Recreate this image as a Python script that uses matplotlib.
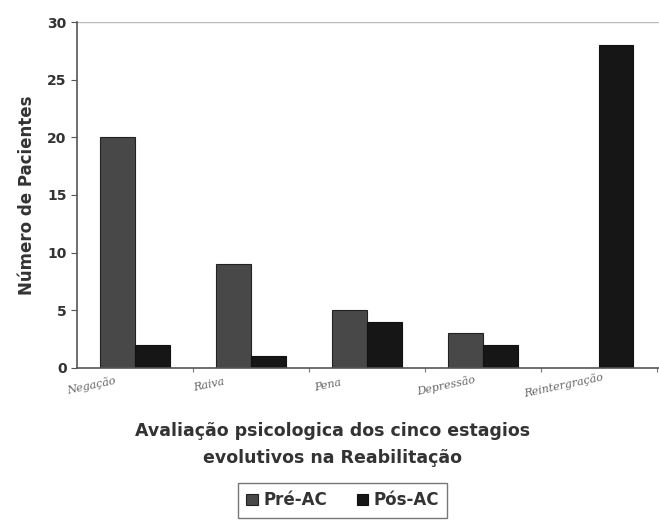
import matplotlib.pyplot as plt
import numpy as np

categorias = ['Negação', 'Raiva', 'Pena', 'Depressão', 'Reintergração']
pre_ac = [20, 9, 5, 3, 0]
pos_ac = [2, 1, 4, 2, 28]
yticks = [0, 5, 10, 15, 20, 25, 30]

fig = plt.figure(figsize=(6.59, 5.24), dpi=100)
ax = fig.add_axes([0.117, 0.298, 0.883, 0.66])

x = np.arange(len(categorias))
w = 0.3
ax.bar(x - w / 2, pre_ac, w, color='#484848', edgecolor='#222222', lw=0.8, label='Pré-AC')
ax.bar(x + w / 2, pos_ac, w, color='#161616', edgecolor='#111111', lw=0.8, label='Pós-AC')

ax.set_xlim(-0.5, 4.52)
ax.set_ylim(0, 30)
ax.set_yticks(yticks)
ax.set_yticklabels([str(v) for v in yticks], fontsize=10, fontweight='bold', color='#333333')
ax.axhline(30, color='#bbbbbb', lw=1)

ax.set_xticks(x + 0.5)
ax.set_xticklabels([])
ax.tick_params(axis='x', length=3, direction='out', color='#777777')
ax.tick_params(axis='y', length=4, color='#555555')
for s in ['top', 'right']:
    ax.spines[s].set_visible(False)
ax.spines['left'].set_color('#555555')
ax.spines['bottom'].set_color('#555555')
ax.spines['left'].set_linewidth(1.2)
ax.spines['bottom'].set_linewidth(1.2)

for i, c in enumerate(categorias):
    ax.text(i - 0.38 + 0.02 * i, -1.5, c, rotation=12, ha='center', va='center', fontsize=8,
            family='DejaVu Serif', style='italic', color='#666666')

ax.set_ylabel('Número de Pacientes', fontsize=12, fontweight='bold', color='#333333', labelpad=8)
fig.text(0.505, 0.152, 'Avaliação psicologica dos cinco estagios\nevolutivos na Reabilitação',
         ha='center', va='center', fontsize=12.5, fontweight='bold', color='#333333', linespacing=1.6)

leg = fig.legend(loc='center', bbox_to_anchor=(0.52, 0.045), ncol=2, frameon=True,
                 fancybox=False, edgecolor='#555555', fontsize=12, handlelength=0.7,
                 handleheight=0.7, columnspacing=1.8, handletextpad=0.3, borderpad=0.5)
for t in leg.get_texts():
    t.set_fontweight('bold')
    t.set_color('#333333')

fig.savefig('out.png', dpi=100)
